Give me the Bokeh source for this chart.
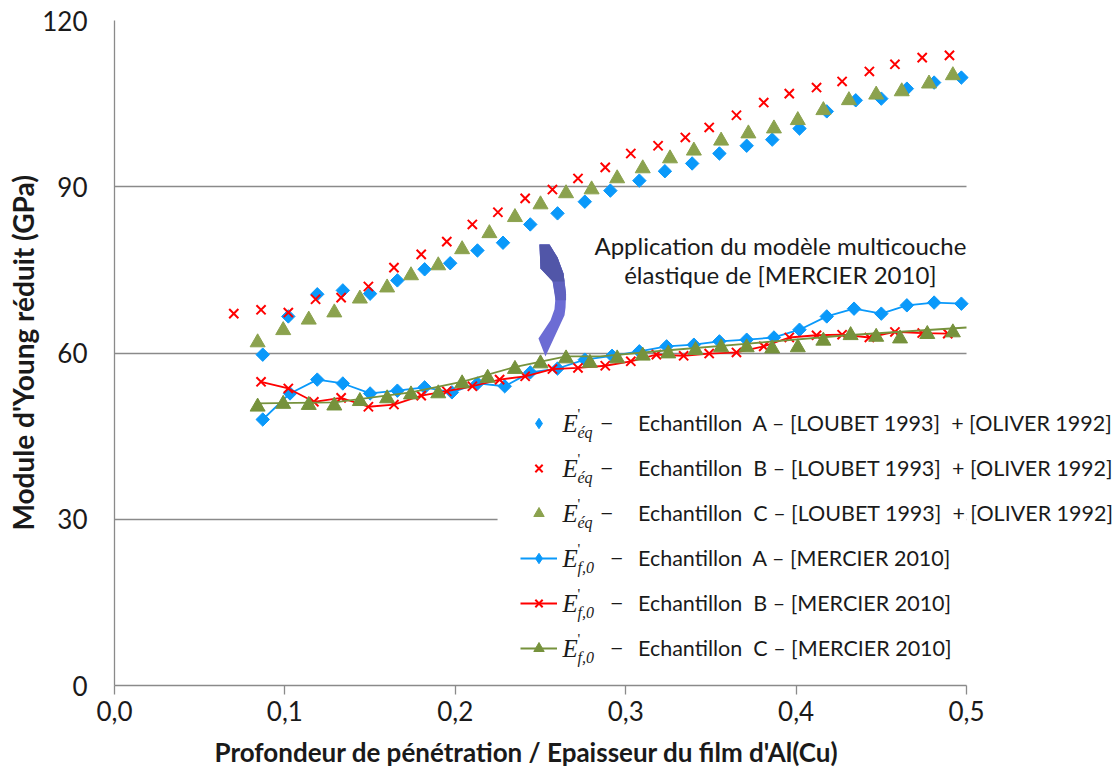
import numpy as np
from bokeh.plotting import figure
from bokeh.models import (Legend, LegendItem, Label, FixedTicker, Range1d, ColumnDataSource,
                          BoxAnnotation, Title)
from bokeh.embed import file_html
from bokeh.resources import INLINE

# ---------------- data ----------------
x_ticks = [0.0, 0.1, 0.2, 0.3, 0.4, 0.5]
x_tick_labels = ["0,0", "0,1", "0,2", "0,3", "0,4", "0,5"]
y_ticks = [0, 30, 60, 90, 120]
y_tick_labels = ["0", "30", "60", "90", "120"]

# E'eq - Echantillon A - [LOUBET 1993] + [OLIVER 1992]
eq_a_x = [0.087, 0.102, 0.119, 0.134, 0.150, 0.166, 0.182, 0.197, 0.213, 0.228, 0.244, 0.260, 0.276, 0.291,
          0.308, 0.323, 0.339, 0.355, 0.371, 0.386, 0.402, 0.418, 0.435, 0.450, 0.465, 0.481, 0.497]
eq_a_y = [59.7, 66.6, 70.6, 71.3, 70.7, 73.1, 75.1, 76.2, 78.5, 79.9, 83.2, 85.2, 87.3, 89.3,
          91.1, 92.8, 94.2, 96.0, 97.4, 98.5, 100.5, 103.6, 105.6, 105.9, 107.7, 108.8, 109.7]

# E'eq - Echantillon B
eq_b_x = [0.070, 0.086, 0.102, 0.118, 0.133, 0.149, 0.164, 0.180, 0.195, 0.210, 0.225, 0.241, 0.257, 0.272,
          0.288, 0.303, 0.319, 0.335, 0.349, 0.365, 0.381, 0.396, 0.412, 0.427, 0.443, 0.458, 0.474, 0.490]
eq_b_y = [67.1, 67.8, 67.3, 69.7, 70.0, 72.0, 75.4, 77.8, 80.1, 83.2, 85.4, 87.9, 89.5, 91.5,
          93.5, 96.0, 97.4, 98.9, 100.7, 102.9, 105.2, 106.8, 107.9, 109.0, 110.8, 112.1, 113.3, 113.7]

# E'eq - Echantillon C
eq_c_x = [0.084, 0.099, 0.114, 0.129, 0.144, 0.160, 0.174, 0.190, 0.204, 0.220, 0.235, 0.250, 0.265, 0.280,
          0.295, 0.310, 0.326, 0.340, 0.356, 0.372, 0.387, 0.401, 0.416, 0.431, 0.447, 0.462, 0.478, 0.492]
eq_c_y = [61.9, 64.1, 66.0, 67.3, 69.8, 71.8, 74.0, 75.8, 78.7, 81.6, 84.5, 86.8, 88.8, 89.5,
          91.5, 93.3, 95.1, 96.5, 98.3, 99.6, 100.5, 102.0, 103.8, 105.6, 106.6, 107.2, 108.6, 110.1]

# E'f,0 - Echantillon A - [MERCIER 2010]
f0_a_x = [0.087, 0.103, 0.119, 0.134, 0.150, 0.166, 0.182, 0.198, 0.213, 0.229, 0.244, 0.260, 0.276, 0.292,
          0.308, 0.324, 0.340, 0.355, 0.371, 0.387, 0.402, 0.418, 0.434, 0.450, 0.465, 0.481, 0.497]
f0_a_y = [48.0, 52.7, 55.2, 54.5, 52.7, 53.2, 53.8, 52.9, 54.5, 54.0, 56.5, 57.2, 58.8, 59.5,
          60.3, 61.2, 61.5, 62.1, 62.4, 62.8, 64.2, 66.6, 68.0, 67.1, 68.6, 69.1, 68.9]

# E'f,0 - Echantillon B
f0_b_x = [0.086, 0.102, 0.117, 0.133, 0.149, 0.164, 0.180, 0.195, 0.210, 0.226, 0.241, 0.257, 0.272, 0.288,
          0.303, 0.318, 0.334, 0.349, 0.365, 0.381, 0.396, 0.412, 0.427, 0.443, 0.458, 0.474, 0.489]
f0_b_y = [54.8, 53.6, 51.2, 51.9, 50.3, 50.7, 52.3, 53.1, 54.0, 55.2, 55.8, 57.1, 57.3, 57.7,
          58.5, 59.7, 59.5, 59.9, 60.1, 61.2, 62.8, 63.2, 63.3, 62.8, 63.8, 63.6, 63.5]

# E'f,0 - Echantillon C (markers)
f0_c_x = [0.084, 0.099, 0.114, 0.129, 0.144, 0.160, 0.174, 0.190, 0.204, 0.219, 0.235, 0.250, 0.265, 0.279,
          0.295, 0.310, 0.325, 0.341, 0.356, 0.371, 0.386, 0.401, 0.416, 0.432, 0.447, 0.461, 0.477, 0.492]
f0_c_y = [50.3, 50.8, 50.6, 50.5, 51.3, 51.8, 52.5, 52.7, 54.5, 55.5, 57.1, 58.1, 59.0, 58.2,
          59.0, 59.5, 59.9, 60.5, 61.0, 61.0, 60.8, 61.0, 62.2, 63.2, 62.9, 62.6, 63.4, 63.7]
# E'f,0 - Echantillon C (smoothed line as drawn)
f0_c_line_x = [0.084, 0.129, 0.174, 0.205, 0.234, 0.265, 0.285, 0.325, 0.372, 0.430, 0.500]
f0_c_line_y = [50.9, 51.1, 52.9, 54.9, 57.4, 59.4, 59.4, 60.5, 61.7, 63.2, 64.6]

legend_texts = [
    "Echantillon\u00a0 A \u2013 [LOUBET 1993]\u00a0 + [OLIVER 1992]",
    "Echantillon\u00a0 B \u2013 [LOUBET 1993]\u00a0 + [OLIVER 1992]",
    "Echantillon\u00a0 C \u2013 [LOUBET 1993]\u00a0 + [OLIVER 1992]",
    "Echantillon\u00a0 A \u2013 [MERCIER 2010]",
    "Echantillon\u00a0 B \u2013 [MERCIER 2010]",
    "Echantillon\u00a0 C \u2013 [MERCIER 2010]",
]
legend_subscripts = ["\u00e9q", "\u00e9q", "\u00e9q", "f,0", "f,0", "f,0"]
note_lines = ["Application du mod\u00e8le multicouche", "\u00e9lastique de [MERCIER 2010]"]
x_title = "Profondeur de p\u00e9n\u00e9tration / Epaisseur du film d'Al(Cu)"
y_title = "Module d'Young r\u00e9duit (GPa)"

# ---------------- style ----------------
BLUE = "#0A99FA"
RED = "#FF0000"
GREEN_PT = "#8BA24E"
GREEN_LN = "#76923C"
GRID = "#8A8A8A"
FONT = "Lato"
INK = "#1a1a1a"

W, H = 1115, 780
LEFT, TOP, BOTTOM = 114, 20, 95
frame_w = W - LEFT                  # frame runs to the right edge (legend lives there)
x_end = 0.5 * frame_w / 852.0       # 0.5 sits 852 px right of the y axis

p = figure(width=W, height=H, x_range=Range1d(0, x_end), y_range=Range1d(0, 120),
           output_backend="svg", toolbar_location=None,
           min_border_left=LEFT, min_border_right=0, min_border_top=TOP, min_border_bottom=BOTTOM)
p.outline_line_color = None
p.background_fill_color = "white"
p.xgrid.visible = False

grid = p.ygrid[0]
grid.ticker = FixedTicker(ticks=y_ticks[1:])
grid.grid_line_color = GRID
grid.grid_line_width = 1.3
if "cross_bounds" in grid.properties():
    grid.cross_bounds = (0, 0.5)
else:
    grid.visible = False
    p.segment(x0=0, x1=0.5, y0=y_ticks[1:], y1=y_ticks[1:], line_color=GRID, line_width=1.3)

# white area behind the legend (hides the grid line there, stays under the data)
p.add_layout(BoxAnnotation(left=0.2248, right=0.5, bottom=2, top=52, fill_color="white", fill_alpha=1.0,
                           line_color=None, level="underlay"))

p.xaxis.ticker = FixedTicker(ticks=x_ticks)
p.xaxis.major_label_overrides = dict(zip(x_ticks, x_tick_labels))
p.xaxis.bounds = (0, 0.5)
p.yaxis.ticker = FixedTicker(ticks=y_ticks)
p.yaxis.major_label_overrides = dict(zip(y_ticks, y_tick_labels))

for ax in (p.xaxis[0], p.yaxis[0]):
    ax.axis_line_color = GRID
    ax.axis_line_width = 1.3
    ax.major_tick_line_color = GRID
    ax.major_tick_line_width = 1.3
    ax.minor_tick_line_color = None
    ax.major_label_text_font = FONT
    ax.major_label_text_font_size = "26px"
    ax.major_label_text_color = INK
    ax.major_tick_in = 0

p.xaxis.major_tick_out = 9
p.xaxis.major_label_standoff = 6
p.yaxis.major_tick_out = 0
p.yaxis.major_label_standoff = 27

# axis titles as side titles so that they can be placed like in the original
p.add_layout(Title(text=x_title, align="left", offset=100, standoff=20, text_font=FONT,
                   text_font_size="26px", text_font_style="bold", text_color=INK), "below")
p.add_layout(Title(text=y_title, align="left", offset=155, standoff=0, text_font=FONT,
                   text_font_size="28px", text_font_style="bold", text_color=INK), "left")

# ---------------- glyphs ----------------
p.scatter(eq_a_x, eq_a_y, marker="square", angle=np.pi / 4, size=9.5, fill_color=BLUE, line_color=BLUE)
p.scatter(eq_b_x, eq_b_y, marker="x", size=13, line_color=RED, line_width=2)
p.scatter(eq_c_x, eq_c_y, marker="triangle", size=15, fill_color=GREEN_PT, line_color=GREEN_PT)

p.line(f0_a_x, f0_a_y, line_color=BLUE, line_width=1.8)
p.scatter(f0_a_x, f0_a_y, marker="square", angle=np.pi / 4, size=9.5, fill_color=BLUE, line_color=BLUE)
p.line(f0_b_x, f0_b_y, line_color=RED, line_width=1.8)
p.scatter(f0_b_x, f0_b_y, marker="x", size=13, line_color=RED, line_width=2)
p.line(f0_c_line_x, f0_c_line_y, line_color=GREEN_LN, line_width=1.8)
p.scatter(f0_c_x, f0_c_y, marker="triangle", size=15, fill_color=GREEN_LN, line_color=GREEN_LN)

# curved arrow (annotation shape), three tones to mimic its gradient
arrow_x = [0.2553, 0.2600, 0.2635, 0.2650, 0.2647, 0.2641, 0.2529, 0.2488, 0.2559, 0.2582,
           0.2588, 0.2570, 0.2500, 0.2494]
arrow_y = [79.58, 77.23, 74.35, 70.74, 68.20, 66.8, 59.37, 62.6, 65.9, 67.9, 70.02, 73.08, 75.25, 79.58]
p.patch(arrow_x, arrow_y, fill_color="#6C6CD4", line_color=None)
arrow_mid_x = [0.2553, 0.2600, 0.2635, 0.2650, 0.2650, 0.2588, 0.2570, 0.2500, 0.2494]
arrow_mid_y = [79.58, 77.23, 74.35, 70.74, 69.5, 69.5, 73.08, 75.25, 79.58]
p.patch(arrow_mid_x, arrow_mid_y, fill_color="#5F61BF", line_color=None)
arrow_top_x = [0.2553, 0.2600, 0.2635, 0.2641, 0.2570, 0.2500, 0.2494]
arrow_top_y = [79.58, 77.23, 74.35, 72.9, 72.9, 75.25, 79.58]
p.patch(arrow_top_x, arrow_top_y, fill_color="#5156A8", line_color=None)

for i, t in enumerate(note_lines):
    p.add_layout(Label(x=0.3908, y=79.4 - 5.3 * i, text=t, text_align="center", text_baseline="middle",
                       text_font=FONT, text_font_size="24px", text_color=INK))

# ---------------- legend (icon renderers hold a single NaN, so they draw nothing on the chart) ----------------
def icon(**kw):
    return p.scatter(x="x", y="y", source=ColumnDataSource(dict(x=[np.nan], y=[np.nan])), **kw)

def icon_line(color):
    return p.line(x="x", y="y", source=ColumnDataSource(dict(x=[np.nan], y=[np.nan])),
                  line_color=color, line_width=1.8)

items = [
    LegendItem(label=legend_texts[0], renderers=[icon(marker="diamond", size=15, fill_color=BLUE, line_color=BLUE)]),
    LegendItem(label=legend_texts[1], renderers=[icon(marker="x", size=11, line_color=RED, line_width=2)]),
    LegendItem(label=legend_texts[2], renderers=[icon(marker="triangle", size=13, fill_color=GREEN_PT,
                                                      line_color=GREEN_PT)]),
    LegendItem(label=legend_texts[3], renderers=[icon_line(BLUE),
                                                 icon(marker="diamond", size=15, fill_color=BLUE, line_color=BLUE)]),
    LegendItem(label=legend_texts[4], renderers=[icon_line(RED),
                                                 icon(marker="x", size=11, line_color=RED, line_width=2)]),
    LegendItem(label=legend_texts[5], renderers=[icon_line(GREEN_LN),
                                                 icon(marker="triangle", size=13, fill_color=GREEN_LN,
                                                      line_color=GREEN_LN)]),
]
legend = Legend(items=items, location=(406, 24), orientation="vertical", padding=0, margin=0,
                spacing=19, glyph_width=37, glyph_height=26, label_height=26, label_standoff=81,
                label_text_font=FONT, label_text_font_size="21.5px", label_text_color=INK,
                background_fill_alpha=0.0, border_line_color=None)
p.add_layout(legend)

# math parts of the legend labels  E'_eq -  /  E'_f,0 -
x_anchor = (562 - 114) / 1704.0
for i, sub in enumerate(legend_subscripts):
    yc = (262 - 45 * i) * 120 / 665.0
    common = dict(x=x_anchor, y=yc, text_baseline="middle", text_align="left", text_color=INK,
                  text_font="Liberation Serif", level="overlay")
    p.add_layout(Label(text="E", text_font_style="italic", text_font_size="25px", **common))
    p.add_layout(Label(text="'", x_offset=15, y_offset=10, text_font_size="15px", **common))
    p.add_layout(Label(text=sub, x_offset=15, y_offset=-9, text_font_style="italic",
                       text_font_size="16px", **common))
    dash_off = 38 if sub == "\u00e9q" else 48
    p.add_layout(Label(text="\u2212", x_offset=dash_off, text_font_size="22px", **common))

open("out.html", "w").write(file_html(p, INLINE))
